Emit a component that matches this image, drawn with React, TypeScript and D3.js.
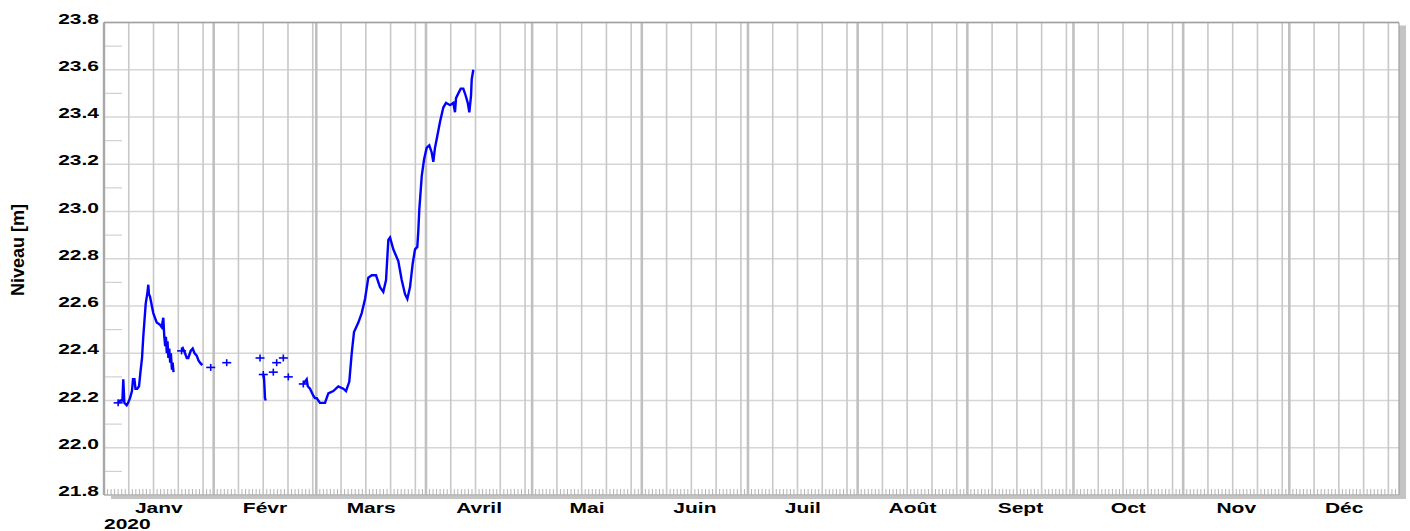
import React from 'react';
import * as d3 from 'd3';

const W = 1410;
const H = 531;

// Tick labels
const yTickValues = [21.8, 22.0, 22.2, 22.4, 22.6, 22.8, 23.0, 23.2, 23.4, 23.6, 23.8];
const yMinorValues = [21.9, 22.1, 22.3, 22.5, 22.7, 22.9, 23.1, 23.3, 23.5, 23.7];
const monthLabels = ['Janv', 'Févr', 'Mars', 'Avril', 'Mai', 'Juin', 'Juil', 'Août', 'Sept', 'Oct', 'Nov', 'Déc'];
const yearLabel = '2020';
const yAxisTitle = 'Niveau [m]';

// Data: [days since 2020-01-01 00:00 UTC, level in m]
const segmentJanvier: [number, number][] = [
  [4.0, 22.19], [4.6, 22.2], [5.2, 22.2], [5.45, 22.29], [5.75, 22.19], [6.4, 22.18], [6.8, 22.19],
  [7.35, 22.21], [7.9, 22.24], [8.2, 22.29], [8.6, 22.29], [8.9, 22.25], [9.4, 22.25], [9.9, 22.26],
  [10.3, 22.32], [10.75, 22.38], [11.1, 22.47], [11.79, 22.61], [12.3, 22.66], [12.52, 22.69],
  [12.7, 22.65], [13.0, 22.64], [13.93, 22.57], [14.9, 22.53], [15.83, 22.52], [16.3, 22.51],
  [16.76, 22.55], [17.04, 22.47], [17.3, 22.43], [17.5, 22.47], [17.75, 22.4], [17.95, 22.45],
  [18.2, 22.38], [18.45, 22.42], [18.7, 22.36], [18.9, 22.4], [19.2, 22.33], [19.4, 22.36], [19.65, 22.32],
];
const segmentFinJanvier: [number, number][] = [
  [21.93, 22.41], [22.3, 22.42], [22.9, 22.4], [23.4, 22.38], [23.83, 22.38], [24.5, 22.41],
  [25.07, 22.42], [25.6, 22.4], [26.2, 22.39], [26.7, 22.37], [27.13, 22.36], [27.78, 22.35],
];
const segmentFevrier: [number, number][] = [
  [45.02, 22.31], [45.2, 22.3], [45.35, 22.26], [45.5, 22.21], [45.7, 22.2],
];
const segmentPrintemps: [number, number][] = [
  [56.33, 22.27], [56.8, 22.28], [57.29, 22.29], [57.6, 22.26], [58.22, 22.25], [59.16, 22.22],
  [59.6, 22.21], [60.12, 22.21], [60.57, 22.2], [61.05, 22.19], [62.46, 22.19], [63.4, 22.23],
  [64.81, 22.24], [66.22, 22.26], [67.64, 22.25], [68.4, 22.24], [69.33, 22.28], [70.01, 22.4],
  [70.66, 22.49], [71.88, 22.53], [72.84, 22.57], [73.77, 22.63], [74.7, 22.72], [75.66, 22.73],
  [76.88, 22.73], [78.01, 22.68], [78.94, 22.66], [79.71, 22.71], [80.36, 22.88], [80.84, 22.89],
  [81.77, 22.84], [83.18, 22.79], [84.14, 22.71], [85.08, 22.65], [85.73, 22.63], [86.49, 22.68],
  [87.25, 22.78], [87.9, 22.84], [88.55, 22.85], [88.84, 22.92], [89.12, 23.01], [89.32, 23.05],
  [89.8, 23.15], [90.45, 23.22], [91.21, 23.27], [91.94, 23.28], [92.62, 23.25], [93.07, 23.21],
  [93.55, 23.27], [94.2, 23.32], [94.97, 23.38], [95.9, 23.44], [96.66, 23.46], [97.8, 23.45],
  [98.73, 23.46], [99.2, 23.42], [99.49, 23.48], [100.14, 23.5], [100.82, 23.52], [101.55, 23.52],
  [102.23, 23.49], [102.8, 23.46], [103.25, 23.42], [103.73, 23.49], [103.93, 23.56], [104.38, 23.6],
];
const isolatedPoints: [number, number][] = [
  [30.16, 22.34], [34.68, 22.36], [44.1, 22.38], [47.85, 22.32], [48.8, 22.36], [50.68, 22.38], [52.09, 22.3],
];

const segments = [segmentJanvier, segmentFinJanvier, segmentFevrier, segmentPrintemps];

const PLOT = { left: 104, right: 1399, top: 22.5, bottom: 495 };
const t0 = Date.UTC(2020, 0, 1);
const toDate = (d: number) => new Date(t0 + d * 864e5);
const FONT = '"Liberation Sans", Arial, Helvetica, sans-serif';

export default function App() {
  const start = new Date(Date.UTC(2020, 0, 1));
  const end = new Date(Date.UTC(2021, 0, 1));
  const x = d3.scaleUtc().domain([start, end]).range([PLOT.left, PLOT.right]);
  const y = d3.scaleLinear().domain([21.8, 23.8]).range([PLOT.bottom, PLOT.top]);
  const line = d3
    .line<[number, number]>()
    .x((p) => x(toDate(p[0])))
    .y((p) => y(p[1]));

  const days = d3.utcDay.range(start, end);
  const months = d3.utcMonth.range(start, end);
  const weekly = days.filter((d) => [8, 15, 22, 29].includes(d.getUTCDate()));
  const fmt = d3.format('.1f');

  const markerStarts: [number, number][] = [segmentJanvier[0], segmentFinJanvier[0], segmentFevrier[0], segmentPrintemps[0]];
  const markers = [...isolatedPoints, ...markerStarts];

  return (
    <svg width={W} height={H} style={{ position: 'absolute', left: 0, top: 0, background: '#fff' }}>
      {/* shadow */}
      <rect x={PLOT.right} y={PLOT.top + 3} width={7} height={PLOT.bottom - PLOT.top + 1} fill="#c4c4c4" />
      <rect x={PLOT.left + 7} y={PLOT.bottom} width={PLOT.right - PLOT.left} height={4} fill="#c4c4c4" />
      <rect x={PLOT.left} y={PLOT.top} width={PLOT.right - PLOT.left} height={PLOT.bottom - PLOT.top} fill="#fff" />

      {/* horizontal gridlines */}
      {yTickValues.map((v) => (
        <line key={'h' + v} x1={PLOT.left} x2={PLOT.right} y1={y(v)} y2={y(v)} stroke="#d6d6d6" strokeWidth={1.5} />
      ))}
      {yMinorValues.map((v) => (
        <line key={'hm' + v} x1={PLOT.left} x2={PLOT.left + 18} y1={y(v)} y2={y(v)} stroke="#d0d0d0" strokeWidth={1.2} />
      ))}
      {/* daily minor ticks */}
      {days.map((d) => (
        <line key={'d' + d.getTime()} x1={x(d)} x2={x(d)} y1={PLOT.bottom - 6} y2={PLOT.bottom} stroke="#b4b4b4" strokeWidth={1} />
      ))}
      {/* weekly gridlines */}
      {weekly.map((d) => (
        <line key={'w' + d.getTime()} x1={x(d)} x2={x(d)} y1={PLOT.top} y2={PLOT.bottom} stroke="#c8c8c8" strokeWidth={1.6} />
      ))}
      {/* month gridlines */}
      {months.map((d) => (
        <line key={'m' + d.getTime()} x1={x(d)} x2={x(d)} y1={PLOT.top} y2={PLOT.bottom} stroke="#c0c0c0" strokeWidth={2.6} />
      ))}

      {/* frame */}
      <line x1={PLOT.left} x2={PLOT.right} y1={PLOT.top} y2={PLOT.top} stroke="#a0a0a0" strokeWidth={1.5} />
      <line x1={PLOT.left} x2={PLOT.left} y1={PLOT.top} y2={PLOT.bottom} stroke="#a0a0a0" strokeWidth={1.5} />
      <line x1={PLOT.right} x2={PLOT.right} y1={PLOT.top} y2={PLOT.bottom} stroke="#a0a0a0" strokeWidth={1.2} />
      <line x1={PLOT.left} x2={PLOT.right} y1={PLOT.bottom} y2={PLOT.bottom} stroke="#a8a8a8" strokeWidth={1.2} />

      {/* data */}
      {segments.map((s, i) => (
        <path key={'s' + i} d={line(s) || ''} fill="none" stroke="#0000ff" strokeWidth={2.4} strokeLinejoin="miter" />
      ))}
      {markers.map((p, i) => {
        const cx = x(toDate(p[0]));
        const cy = y(p[1]);
        return (
          <g key={'p' + i} stroke="#0000ff" strokeWidth={1.6}>
            <line x1={cx - 4.5} x2={cx + 4.5} y1={cy} y2={cy} />
            <line x1={cx} x2={cx} y1={cy - 3.5} y2={cy + 3.5} />
          </g>
        );
      })}

      {/* y tick labels */}
      {yTickValues.map((v) => (
        <text
          key={'yl' + v}
          transform={`translate(99,${y(v) + 1}) scale(1.5,1)`}
          textAnchor="end"
          fontFamily={FONT}
          fontWeight="bold"
          fontSize={14}
          fill="#000"
        >
          {fmt(v)}
        </text>
      ))}

      {/* month labels */}
      {months.map((d, i) => {
        const next = d3.utcMonth.offset(d, 1);
        const cx = (x(d) + x(next)) / 2;
        return (
          <text
            key={'ml' + i}
            transform={`translate(${cx},513) scale(1.5,1)`}
            textAnchor="middle"
            fontFamily={FONT}
            fontWeight="bold"
            fontSize={14}
            fill="#000"
          >
            {monthLabels[i]}
          </text>
        );
      })}
      <text transform={`translate(104,529) scale(1.5,1)`} fontFamily={FONT} fontWeight="bold" fontSize={14} fill="#000">
        {yearLabel}
      </text>

      {/* y axis title */}
      <text transform="translate(24,250) rotate(-90)" textAnchor="middle" fontFamily={FONT} fontWeight="bold" fontSize={18} fill="#000">
        {yAxisTitle}
      </text>
    </svg>
  );
}
